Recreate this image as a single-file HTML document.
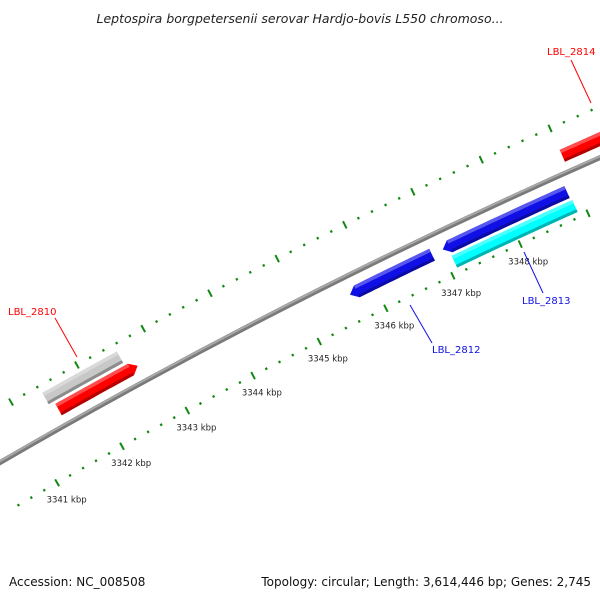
<!DOCTYPE html>
<html><head><meta charset="utf-8"><style>
html,body{margin:0;padding:0;background:#fff;width:600px;height:600px;overflow:hidden}
svg{display:block;overflow:hidden}
text{font-family:"DejaVu Sans","Liberation Sans",sans-serif}
</style></head><body>
<svg id="map" width="600" height="600" viewBox="0 0 600 600" xmlns="http://www.w3.org/2000/svg">
<text x="300" y="23" text-anchor="middle" font-size="12.5" font-style="italic" fill="#222">Leptospira borgpetersenii serovar Hardjo-bovis L550 chromoso...</text>
<g id="ticks"></g>
<g id="backbone"></g>
<g id="genes"></g>
<g id="labels"></g>
<text x="9" y="586" font-size="12" fill="#111">Accession: NC_008508</text>
<text x="591" y="586" text-anchor="end" font-size="12" fill="#111">Topology: circular; Length: 3,614,446 bp; Genes: 2,745</text>
</svg>
<script>
const geneNames=["LBL_2810","gray-feature","LBL_2812","LBL_2811","LBL_2813","LBL_2814"];
const geneStart=[3341.5,3341.42,3345.75,3347.13,3347.1,3349.0];
const geneEnd=[3342.6,3342.55,3346.87,3348.86,3348.88,3350.5];
const geneRing=[1,2,-1,-1,-2,1];
const geneStrand=[1,0,-1,-1,0,1];
const geneColor=["#ff0000","#c8c8c8","#1010e6","#1010e6","#00ffff","#ff0000"];
const tickStart=3340.4, tickEnd=3350.4;
const tickLabels=[3341,3342,3343,3344,3345,3346,3347,3348];
const labelTexts=["LBL_2810","LBL_2812","LBL_2813","LBL_2814"];
const labelGene=[0,2,4,5];

const NS="http://www.w3.org/2000/svg";
const CX=3059,CY=5739,R0=6099,TH0=-2.0897,DTH=0.0123;
function pt(k,r){const t=TH0+(k-3341)*DTH;return [CX+r*Math.cos(t),CY+r*Math.sin(t)];}
function el(tag,attrs,parent){const e=document.createElementNS(NS,tag);for(const a in attrs)e.setAttribute(a,attrs[a]);parent.appendChild(e);return e;}
function band(k1,k2,r1,r2,tip){
  const pts=[];const n=20;
  for(let i=0;i<=n;i++){pts.push(pt(k1+(k2-k1)*i/n,r2));}
  if(tip>0){pts.push(pt(k2+0.1,(r1+r2)/2));}
  for(let i=n;i>=0;i--){pts.push(pt(k1+(k2-k1)*i/n,r1));}
  if(tip<0){pts.push(pt(k1-0.1,(r1+r2)/2));}
  return pts.map(p=>p[0].toFixed(1)+","+p[1].toFixed(1)).join(" ");
}
function shade(hex,f){const c=parseInt(hex.slice(1),16);let r=c>>16,g=(c>>8)&255,b=c&255;
  if(f>0){r+= (255-r)*f;g+=(255-g)*f;b+=(255-b)*f;}else{r*=1+f;g*=1+f;b*=1+f;}
  return "rgb("+[r,g,b].map(Math.round).join(",")+")";}

const tg=document.getElementById('ticks');
[R0-46,R0+47].forEach(function(r,ti){
  for(let k=tickStart;k<=tickEnd+1e-6;k+=0.2){
    const kk=Math.round(k*10)/10;
    const major=Math.abs(kk-Math.round(kk))<0.01;
    const len=major?4:1.2;
    const a=pt(kk,r-len),b=pt(kk,r+len);
    const t=el('line',{x1:a[0],y1:a[1],x2:b[0],y2:b[1],stroke:'#118811','stroke-width':major?2:2.2},tg);
    
    
  }
});
tickLabels.forEach(function(k){
  const p=pt(k,R0-46-19);
  const t=el('text',{x:p[0].toFixed(1),y:(p[1]+3).toFixed(1),'text-anchor':'middle','font-size':'8.5',fill:'#222'},tg);
  t.textContent=k+" kbp";
  
  
});

const bb=document.getElementById('backbone');
el('circle',{cx:CX,cy:CY,r:R0,fill:'none',stroke:'#7a7a7a','stroke-width':5},bb);
el('circle',{cx:CX,cy:CY,r:R0+1.2,fill:'none',stroke:'#a8a8a8','stroke-width':2},bb);

const gg=document.getElementById('genes');
const ringOff={"1":17,"2":33,"-1":-18,"-2":-34};
geneNames.forEach(function(n,i){
  const rc=R0+ringOff[geneRing[i]];
  const r1=rc-6.5,r2=rc+6.5;
  const g=el('g',{},gg);
  
  
  el('polygon',{points:band(geneStart[i],geneEnd[i],r1,r2,geneStrand[i]),fill:geneColor[i]},g);
  el('polygon',{points:band(geneStart[i],geneEnd[i],r2-3.5,r2,0),fill:shade(geneColor[i],0.3)},g);
  el('polygon',{points:band(geneStart[i],geneEnd[i],r1,r1+3,0),fill:shade(geneColor[i],-0.3)},g);
});

const lg=document.getElementById('labels');
const labelPos=[[8,315,55,318,77,357],[432,353,410,305,432,343],[522,304,524,252,543,293],[547,55,571,60,591,103]];
labelTexts.forEach(function(t,i){
  const col=geneColor[labelGene[i]]==="#ff0000"?"#ff0000":"#1010e6";
  const L=labelPos[i];
  const ln=el('line',{x1:L[2],y1:L[3],x2:L[4],y2:L[5],stroke:col,'stroke-width':1},lg);
  
  
  const tx=el('text',{x:L[0],y:L[1],'font-size':'10',fill:col},lg);
  tx.textContent=t;
  
  
});
</script>
</body></html>
